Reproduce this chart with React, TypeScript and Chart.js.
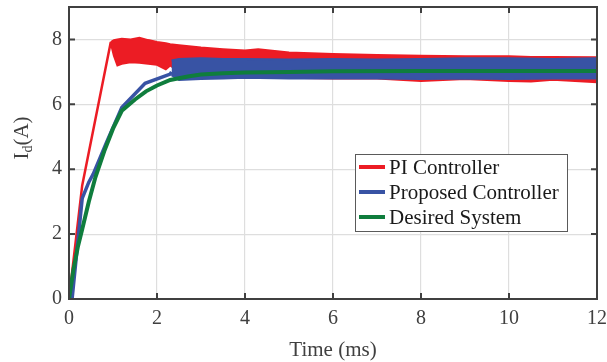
import React, { useEffect, useRef } from 'react';
import { Chart, registerables } from 'chart.js';

Chart.register(...registerables);

// ---- data ----
const xTicks = [0, 2, 4, 6, 8, 10, 12];
const yTicks = [0, 2, 4, 6, 8];
const seriesLabels = ['PI Controller', 'Proposed Controller', 'Desired System'];

const desiredT = [0, 0.1, 0.2, 0.3, 0.45, 0.6, 0.8, 1.0, 1.2, 1.5, 1.75, 2.0, 2.3, 2.7, 3.0, 3.5, 4.0, 5.0, 6.0, 8.0, 10.0, 12.0];
const desiredI = [0, 0.9, 1.6, 2.15, 3.0, 3.75, 4.55, 5.25, 5.8, 6.15, 6.4, 6.58, 6.75, 6.86, 6.92, 6.96, 6.98, 7.0, 7.02, 7.03, 7.03, 7.03];

const proposedT = [0, 0.07, 0.3, 0.45, 0.55, 0.86, 1.2, 1.73, 2.3, 2.33];
const proposedI = [0, 0, 3.1, 3.6, 3.85, 4.85, 5.9, 6.65, 6.93, 7.0];
const proposedBandT = [2.33, 2.5, 3.0, 3.5, 4.0, 5.0, 6.0, 7.0, 8.0, 9.0, 10.0, 11.0, 12.0];
const proposedUpper = [7.35, 7.4, 7.42, 7.4, 7.4, 7.38, 7.4, 7.38, 7.4, 7.42, 7.42, 7.4, 7.42];
const proposedLower = [6.9, 6.75, 6.78, 6.8, 6.82, 6.8, 6.8, 6.8, 6.78, 6.8, 6.78, 6.8, 6.8];

const piT = [0, 0.18, 0.3, 0.95];
const piI = [0, 2.1, 3.5, 7.92];
const piBandT = [0.95, 1.02, 1.1, 1.2, 1.4, 1.6, 1.8, 2.0, 2.2, 2.3, 2.5, 3.0, 3.5, 4.0, 4.3, 5.0, 6.0, 7.0, 8.0, 9.0, 10.0, 10.5, 11.0, 12.0];
const piUpper = [7.92, 7.98, 8.0, 8.02, 8.0, 8.05, 7.98, 7.92, 7.88, 7.85, 7.82, 7.75, 7.7, 7.66, 7.7, 7.6, 7.55, 7.52, 7.5, 7.48, 7.48, 7.46, 7.46, 7.45];
const piLower = [7.88, 7.5, 7.2, 7.25, 7.3, 7.28, 7.25, 7.22, 7.08, 7.2, 7.0, 6.9, 6.85, 6.85, 6.85, 6.82, 6.8, 6.8, 6.72, 6.78, 6.72, 6.7, 6.76, 6.68];

const RED = '#ec1c24';
const BLUE = '#3853a4';
const GREEN = '#0f7d3d';
const seriesColors = [RED, BLUE, GREEN];

const SERIF = '"Liberation Serif", "Times New Roman", serif';

const pts = (t: number[], v: number[]) => t.map((x, i) => ({ x, y: v[i] }));

const framePlugin = {
  id: 'frame',
  afterDraw(chart: any) {
    const { ctx, chartArea: a, scales } = chart;
    const xs = scales.x;
    const ys = scales.y;
    ctx.save();
    // box
    ctx.strokeStyle = '#404040';
    ctx.lineWidth = 2;
    ctx.strokeRect(a.left, a.top, a.right - a.left, a.bottom - a.top);
    // inside ticks
    ctx.lineWidth = 2;
    const tl = 6;
    ctx.beginPath();
    xTicks.forEach((v) => {
      const px = xs.getPixelForValue(v);
      ctx.moveTo(px, a.bottom);
      ctx.lineTo(px, a.bottom - tl);
      ctx.moveTo(px, a.top);
      ctx.lineTo(px, a.top + tl);
    });
    yTicks.forEach((v) => {
      const py = ys.getPixelForValue(v);
      ctx.moveTo(a.left, py);
      ctx.lineTo(a.left + tl, py);
      ctx.moveTo(a.right, py);
      ctx.lineTo(a.right - tl, py);
    });
    ctx.stroke();

    // x title
    ctx.fillStyle = '#404040';
    ctx.font = `21px ${SERIF}`;
    ctx.textAlign = 'center';
    ctx.textBaseline = 'middle';
    ctx.fillText('Time (ms)', (a.left + a.right) / 2, 350);

    // y title I_d(A)
    ctx.save();
    ctx.translate(21, 138);
    ctx.rotate(-Math.PI / 2);
    ctx.textAlign = 'left';
    ctx.textBaseline = 'alphabetic';
    const big = `21px ${SERIF}`;
    const small = `14px ${SERIF}`;
    ctx.font = big;
    const wI = ctx.measureText('I').width;
    const wA = ctx.measureText('(A)').width;
    ctx.font = small;
    const wd = ctx.measureText('d').width;
    let x0 = -(wI + wd + wA) / 2;
    ctx.font = big;
    ctx.fillText('I', x0, 7);
    x0 += wI;
    ctx.font = small;
    ctx.fillText('d', x0, 11);
    x0 += wd;
    ctx.font = big;
    ctx.fillText('(A)', x0, 7);
    ctx.restore();

    // legend
    const bx = 355, by = 154, bw = 212, bh = 77;
    ctx.fillStyle = '#ffffff';
    ctx.fillRect(bx, by, bw, bh);
    ctx.strokeStyle = '#5a5a5a';
    ctx.lineWidth = 1;
    ctx.strokeRect(bx + 0.5, by + 0.5, bw, bh);
    ctx.font = `21px ${SERIF}`;
    ctx.textAlign = 'left';
    ctx.textBaseline = 'middle';
    seriesLabels.forEach((lab, i) => {
      const yy = by + 13 + i * 25;
      ctx.strokeStyle = seriesColors[i];
      ctx.lineWidth = 4;
      ctx.beginPath();
      ctx.moveTo(bx + 4, yy);
      ctx.lineTo(bx + 30, yy);
      ctx.stroke();
      ctx.fillStyle = '#1a1a1a';
      ctx.fillText(lab, bx + 34, yy + 1);
    });
    ctx.restore();
  },
};

export default function App() {
  const ref = useRef<HTMLCanvasElement | null>(null);
  useEffect(() => {
    if (!ref.current) return;
    const chart = new Chart(ref.current, {
      type: 'line',
      data: {
        datasets: [
          { label: seriesLabels[2], data: pts(desiredT, desiredI), borderColor: GREEN, borderWidth: 4, pointRadius: 0, fill: false, tension: 0 },
          { label: seriesLabels[1], data: pts(proposedT, proposedI), borderColor: BLUE, borderWidth: 3.5, pointRadius: 0, fill: false, tension: 0 },
          { label: 'p_up', data: pts(proposedBandT, proposedUpper), borderColor: BLUE, backgroundColor: BLUE, borderWidth: 2, pointRadius: 0, fill: '+1', tension: 0 },
          { label: 'p_lo', data: pts(proposedBandT, proposedLower), borderColor: BLUE, borderWidth: 2, pointRadius: 0, fill: false, tension: 0 },
          { label: seriesLabels[0], data: pts(piT, piI), borderColor: RED, borderWidth: 2.5, pointRadius: 0, fill: false, tension: 0 },
          { label: 'pi_up', data: pts(piBandT, piUpper), borderColor: RED, backgroundColor: RED, borderWidth: 2, pointRadius: 0, fill: '+1', tension: 0 },
          { label: 'pi_lo', data: pts(piBandT, piLower), borderColor: RED, borderWidth: 2, pointRadius: 0, fill: false, tension: 0 },
        ],
      },
      options: {
        responsive: false,
        animation: false,
        events: [],
        layout: { padding: { top: 7, right: 10, left: 0, bottom: 0 } },
        plugins: { legend: { display: false }, tooltip: { enabled: false } },
        scales: {
          x: {
            type: 'linear',
            min: 0,
            max: 12,
            afterFit: (s: any) => { s.height = 63; s.paddingLeft = 0; s.paddingRight = 0; },
            afterBuildTicks: (s: any) => { s.ticks = xTicks.map((v) => ({ value: v })); },
            ticks: { color: '#404040', font: { family: SERIF, size: 20 }, padding: 8, maxRotation: 0 },
            grid: { color: '#dedede', lineWidth: 1.2, drawTicks: false },
            border: { display: false },
          },
          y: {
            type: 'linear',
            min: 0,
            max: 9,
            afterFit: (s: any) => { s.width = 69; s.paddingTop = 0; s.paddingBottom = 0; },
            afterBuildTicks: (s: any) => { s.ticks = yTicks.map((v) => ({ value: v })); },
            ticks: { color: '#404040', font: { family: SERIF, size: 20 }, padding: 7 },
            grid: { color: '#dedede', lineWidth: 1.2, drawTicks: false },
            border: { display: false },
          },
        },
      },
      plugins: [framePlugin],
    });
    return () => chart.destroy();
  }, []);
  return (
    <div style={{ position: 'fixed', left: 0, top: 0, width: 607, height: 362, background: '#fff' }}>
      <canvas ref={ref} width={607} height={362} style={{ display: 'block' }} />
    </div>
  );
}
